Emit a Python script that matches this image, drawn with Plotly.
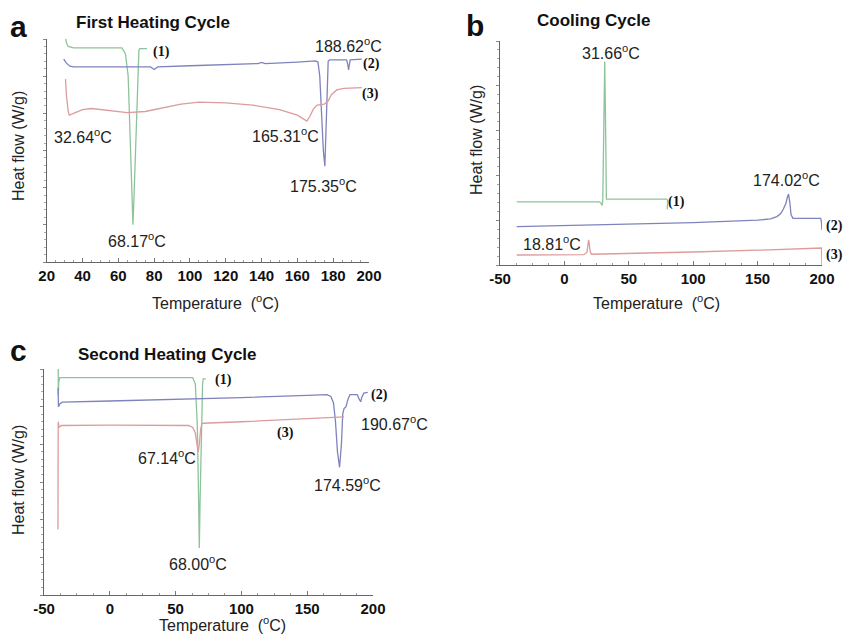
import plotly.graph_objects as go

# ---------------- data ----------------
# Panel a: First heating cycle (arbitrary heat-flow units)
a1_x = [30.5, 31, 32, 35, 50, 62, 64, 65.5, 66.5, 67.5, 68.17, 68.8, 69.8, 70.8, 71.5, 72, 76]
a1_y = [6.05, 5.9, 5.8, 5.76, 5.76, 5.76, 5.6, 5.0, 3.5, 1.8, 1.0, 1.8, 3.5, 5.0, 5.7, 5.74, 5.74]
a2_x = [29.5, 31, 33, 35, 60, 78, 80, 82, 100, 120, 138, 140, 142, 160, 170, 171.5, 172.5, 173.5, 174.5, 175.35,
        176, 176.6, 177.2, 178, 187.5, 188.2, 188.62, 189.0, 189.5, 196]
a2_y = [5.46, 5.35, 5.27, 5.25, 5.25, 5.25, 5.18, 5.25, 5.28, 5.31, 5.34, 5.37, 5.34, 5.38, 5.41, 5.38, 5.0, 4.0,
        3.0, 2.58, 3.5, 4.8, 5.4, 5.44, 5.44, 5.3, 5.17, 5.3, 5.44, 5.46]
a3_x = [30.5, 31, 32, 32.64, 36, 40, 45, 55, 65, 75, 85, 95, 105, 120, 135, 150, 160, 165.31, 167, 169, 171,
        175, 177, 179, 182, 186, 196]
a3_y = [4.92, 4.5, 4.05, 3.95, 4.02, 4.1, 4.13, 4.08, 4.02, 4.05, 4.15, 4.25, 4.3, 4.28, 4.22, 4.1, 3.95, 3.79,
        3.92, 4.12, 4.22, 4.25, 4.32, 4.5, 4.63, 4.67, 4.69]

# Panel b: Cooling cycle
b1_x = [-37, 27, 28.5, 29.2, 29.8, 30.6, 31.3, 32.0, 32.6, 60, 79.3, 80.2, 80.3, 79.8]
b1_y = [1.41, 1.41, 1.38, 1.33, 1.44, 3.0, 4.54, 3.0, 1.47, 1.47, 1.47, 1.44, 1.26, 1.24]
b2_x = [-37, 0, 50, 100, 150, 160, 165, 168, 170, 172, 173, 174.02, 175, 176, 177.5, 190, 199, 199.6, 200]
b2_y = [0.855, 0.88, 0.91, 0.944, 1.0, 1.03, 1.08, 1.15, 1.25, 1.38, 1.5, 1.585, 1.4, 1.12, 1.04, 1.04, 1.04, 0.95, 0.78]
b3_x = [-37, 15, 17.5, 18.2, 18.81, 19.4, 20, 21, 60, 100, 150, 198, 199.6, 200]
b3_y = [0.223, 0.23, 0.28, 0.45, 0.56, 0.45, 0.3, 0.24, 0.26, 0.29, 0.33, 0.372, 0.38, 0.0]

# Panel c: Second heating cycle
c1_x = [-39.2, -39.1, -38.8, -38, 20, 63, 65, 66.5, 67.5, 68.0, 68.6, 69.5, 70.5, 71, 73]
c1_y = [6.0, 5.3, 5.65, 5.77, 5.77, 5.77, 5.6, 4.5, 2.5, 1.25, 2.5, 4.5, 5.6, 5.74, 5.74]
c2_x = [-39.3, -39.0, -38, -36, 0, 50, 100, 150, 165, 168, 170, 171.5, 173, 174.59, 176, 177, 178, 179.5, 181,
        182.5, 188, 189.5, 190.67, 191.5, 193, 196]
c2_y = [5.5, 5.0, 5.07, 5.12, 5.15, 5.19, 5.24, 5.3, 5.32, 5.27, 5.1, 4.6, 3.8, 3.39, 4.0, 4.8, 4.95, 5.0, 5.2,
        5.32, 5.32, 5.2, 5.13, 5.25, 5.36, 5.38]
c3_x = [-39.4, -39.2, -38.5, -37, 0, 50, 60, 63, 65, 66.3, 67.14, 68, 69, 70, 71, 100, 150, 178]
c3_y = [1.74, 4.6, 4.45, 4.5, 4.51, 4.5, 4.5, 4.45, 4.3, 4.0, 3.8, 4.0, 4.4, 4.55, 4.56, 4.6, 4.68, 4.73]

# tick labels
a_tickvals = [20, 40, 60, 80, 100, 120, 140, 160, 180, 200]
a_ticktext = ["20", "40", "60", "80", "100", "120", "140", "160", "180", "200"]
bc_tickvals = [-50, 0, 50, 100, 150, 200]
bc_ticktext = ["-50", "0", "50", "100", "150", "200"]

# peak labels: (text, x, y) in data units
a_labels = [("68.17<sup>o</sup>C", 70.4, 0.59), ("32.64<sup>o</sup>C", 40.3, 3.38),
            ("165.31<sup>o</sup>C", 153.1, 3.43), ("175.35<sup>o</sup>C", 174.5, 2.08),
            ("188.62<sup>o</sup>C", 188.3, 5.84)]
b_labels = [("31.66<sup>o</sup>C", 35.8, 4.76), ("174.02<sup>o</sup>C", 172.8, 1.91),
            ("18.81<sup>o</sup>C", -9.9, 0.50)]
c_labels = [("67.14<sup>o</sup>C", 43.2, 3.67), ("68.00<sup>o</sup>C", 67.2, 0.86),
            ("174.59<sup>o</sup>C", 180.6, 2.94), ("190.67<sup>o</sup>C", 216.7, 4.56)]
# curve tags: (text, x, y) in data units
a_tags = [("(1)", 84.1, 5.66), ("(2)", 201.6, 5.33), ("(3)", 201.0, 4.51)]
b_tags = [("(1)", 87.4, 1.41), ("(2)", 210.0, 0.88), ("(3)", 210.0, 0.22)]
c_tags = [("(1)", 86.3, 5.70), ("(2)", 205.3, 5.32), ("(3)", 133.7, 4.29)]

GREEN = "#8dc39a"
BLUE = "#7f83bd"
RED = "#dc9c9c"
FONT = "Liberation Sans, Arial, sans-serif"

fig = go.Figure()

def add(x, y, color, xa, ya):
    fig.add_trace(go.Scatter(x=x, y=y, mode="lines", line=dict(color=color, width=1.3),
                             xaxis=xa, yaxis=ya, showlegend=False, hoverinfo="skip"))

add(a1_x, a1_y, GREEN, "x", "y")
add(a2_x, a2_y, BLUE, "x", "y")
add(a3_x, a3_y, RED, "x", "y")
add(b1_x, b1_y, GREEN, "x2", "y2")
add(b2_x, b2_y, BLUE, "x2", "y2")
add(b3_x, b3_y, RED, "x2", "y2")
add(c1_x, c1_y, GREEN, "x3", "y3")
add(c2_x, c2_y, BLUE, "x3", "y3")
add(c3_x, c3_y, RED, "x3", "y3")

W, H = 844, 634
def px(v):
    return v / W
def py(v):
    return 1 - v / H

# axis geometry (domains in paper units, ranges in data units)
A_XD, A_YD, A_XR, A_YR = [px(46.7), px(369)], [py(262), py(39)], [20, 200], [0, 6]
B_XD, B_YD, B_XR, B_YR = [px(500), px(822)], [py(265), py(41)], [-50, 200], [0, 5]
C_XD, C_YD, C_XR, C_YR = [px(44), px(373)], [py(595), py(369)], [-50, 200], [0, 6]

def xax(domain, rng, tv, tt, minor_dt, anchor):
    return dict(domain=domain, range=rng, anchor=anchor, tickvals=tv, ticktext=tt, automargin=False,
                showline=True, linecolor="#666", linewidth=1, showgrid=False, zeroline=False,
                ticks="inside", ticklen=4, tickcolor="#777",
                minor=dict(ticks="inside", ticklen=2, dtick=minor_dt, tickcolor="#999", showgrid=False),
                tickfont=dict(family="Liberation Sans Narrow, Liberation Sans, Arial", size=15,
                              color="#111", weight="bold"), fixedrange=True)

def yax(domain, rng, anchor):
    return dict(domain=domain, range=rng, anchor=anchor, showticklabels=False, automargin=False,
                showline=True, linecolor="#666", linewidth=1, showgrid=False, zeroline=False,
                ticks="outside", ticklen=3, tickcolor="#888", dtick=1, tick0=0,
                minor=dict(ticks="outside", ticklen=2, dtick=0.2, tickcolor="#aaa", showgrid=False),
                fixedrange=True)

fig.update_layout(
    width=W, height=H, margin=dict(l=0, r=0, t=0, b=0, pad=0, autoexpand=False), autosize=False,
    paper_bgcolor="white", plot_bgcolor="white",
    xaxis=xax(A_XD, A_XR, a_tickvals, a_ticktext, 5, "y"),
    yaxis=yax(A_YD, A_YR, "x"),
    xaxis2=xax(B_XD, B_XR, bc_tickvals, bc_ticktext, 12.5, "y2"),
    yaxis2=yax(B_YD, B_YR, "x2"),
    xaxis3=xax(C_XD, C_XR, bc_tickvals, bc_ticktext, 12.5, "y3"),
    yaxis3=yax(C_YD, C_YR, "x3"),
)

def to_paper(x, y, xd, yd, xr, yr):
    fx = xd[0] + (x - xr[0]) / (xr[1] - xr[0]) * (xd[1] - xd[0])
    fy = yd[0] + (y - yr[0]) / (yr[1] - yr[0]) * (yd[1] - yd[0])
    return fx, fy

ann = []
panels = [(a_labels, a_tags, A_XD, A_YD, A_XR, A_YR),
          (b_labels, b_tags, B_XD, B_YD, B_XR, B_YR),
          (c_labels, c_tags, C_XD, C_YD, C_XR, C_YR)]
for labels, tags, xd, yd, xr, yr in panels:
    for t, x, y in labels:
        fx, fy = to_paper(x, y, xd, yd, xr, yr)
        ann.append(dict(text=t, x=fx, y=fy, xref="paper", yref="paper", showarrow=False,
                        xanchor="center", yanchor="middle",
                        font=dict(family=FONT, size=16, color="#222")))
    for t, x, y in tags:
        fx, fy = to_paper(x, y, xd, yd, xr, yr)
        ann.append(dict(text=t, x=fx, y=fy, xref="paper", yref="paper", showarrow=False,
                        xanchor="center", yanchor="middle",
                        font=dict(family="Liberation Serif, Times New Roman, serif", size=14,
                                  color="#111", weight="bold")))

# panel letters & titles
for t, x, y in [("a", 18, 27), ("b", 475, 26), ("c", 18, 350)]:
    ann.append(dict(text=t, x=px(x), y=py(y), xref="paper", yref="paper", showarrow=False,
                    xanchor="center", yanchor="middle",
                    font=dict(family=FONT, size=30, color="#111", weight="bold")))
for t, x, y in [("First Heating Cycle", 153, 22), ("Cooling Cycle", 593, 20),
                ("Second Heating Cycle", 167, 354)]:
    ann.append(dict(text=t, x=px(x), y=py(y), xref="paper", yref="paper", showarrow=False,
                    xanchor="center", yanchor="middle",
                    font=dict(family=FONT, size=17, color="#111", weight="bold")))
# axis titles
for x, y in [(18, 146), (477, 140), (18, 480)]:
    ann.append(dict(text="Heat flow (W/g)", x=px(x), y=py(y), xref="paper", yref="paper",
                    showarrow=False, textangle=-90, xanchor="center", yanchor="middle",
                    font=dict(family=FONT, size=16, color="#222")))
for x, y in [(215, 302), (656, 302), (223, 624)]:
    ann.append(dict(text="Temperature  (<sup>o</sup>C)", x=px(x), y=py(y), xref="paper", yref="paper",
                    showarrow=False, xanchor="center", yanchor="middle",
                    font=dict(family=FONT, size=16, color="#222")))

fig.update_layout(annotations=ann)
fig.write_html("out.html")
